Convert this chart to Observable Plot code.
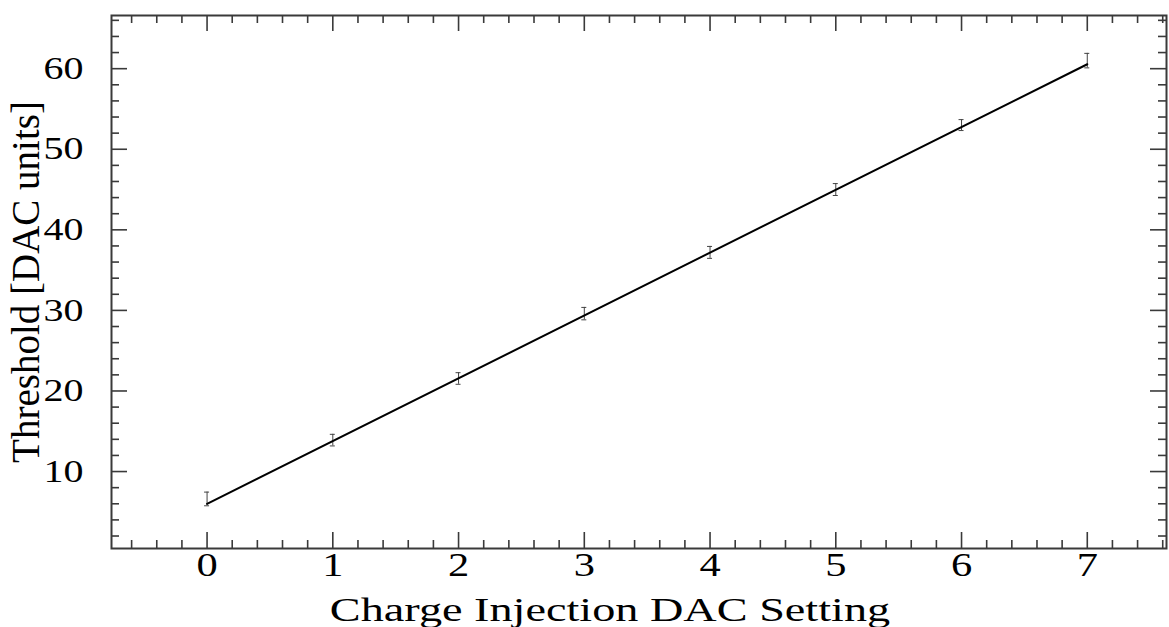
<!DOCTYPE html>
<html>
<head>
<meta charset="utf-8">
<script src="https://cdn.jsdelivr.net/npm/d3@7"></script>
<script src="https://cdn.jsdelivr.net/npm/@observablehq/plot@0.6"></script>
<style>
  body { margin: 0; background: #fff; }
  #chart svg { display: block; }
</style>
</head>
<body>
<div id="chart"></div>
<script>
// Threshold scan: measured threshold vs. charge-injection DAC setting
const dacSetting   = [0, 1, 2, 3, 4, 5, 6, 7];
const threshold    = [6.6, 13.9, 21.55, 29.6, 37.2, 45.0, 53.0, 61.0];
const thresholdErr = [0.85, 0.72, 0.72, 0.77, 0.74, 0.74, 0.68, 0.9];

// Straight-line fit, end points at DAC 0 and DAC 7
const fitX = [0, 7];
const fitY = [6.0, 60.55];

// Axis tick labels
const xTickValues = [0, 1, 2, 3, 4, 5, 6, 7];
const yTickValues = [10, 20, 30, 40, 50, 60];

const xTitle = "Charge Injection DAC Setting";
const yTitle = "Threshold [DAC units]";

const points = dacSetting.map((x, i) => ({
  x, y: threshold[i], lo: threshold[i] - thresholdErr[i], hi: threshold[i] + thresholdErr[i]
}));
const fit = fitX.map((x, i) => ({x, y: fitY[i]}));

const W = 1169, H = 627;
const mTop = 15, mBottom = 79, mLeft = 111, mRight = 3;
const innerH = H - mTop - mBottom;
const innerW = W - mLeft - mRight;

const xDomain = [-0.76, 7.63];
const yDomain = [0.45, 66.6];

const xMinor = d3.range(-0.6, 7.61, 0.2).map(v => Math.round(v * 10) / 10).filter(v => !xTickValues.includes(v));
const yMinor = d3.range(2, 66.1, 2).filter(v => !yTickValues.includes(v));

const axisColor = "#3a3a3a";
const majorLen = 16, minorLen = 8;

const chart = Plot.plot({
  width: W,
  height: H,
  marginTop: mTop,
  marginBottom: mBottom,
  marginLeft: mLeft,
  marginRight: mRight,
  style: {fontFamily: "'Liberation Serif', 'Times New Roman', serif", background: "#fff"},
  x: {domain: xDomain, axis: null},
  y: {domain: yDomain, axis: null},
  marks: [
    // inward ticks on all four sides
    Plot.tickX(xTickValues, {x: d => d, insetTop: innerH - majorLen, stroke: axisColor, strokeWidth: 1.6}),
    Plot.tickX(xMinor, {x: d => d, insetTop: innerH - minorLen, stroke: axisColor, strokeWidth: 1.6}),
    Plot.tickX(xTickValues, {x: d => d, insetBottom: innerH - majorLen, stroke: axisColor, strokeWidth: 1.6}),
    Plot.tickX(xMinor, {x: d => d, insetBottom: innerH - minorLen, stroke: axisColor, strokeWidth: 1.6}),
    Plot.tickY(yTickValues, {y: d => d, insetRight: innerW - majorLen, stroke: axisColor, strokeWidth: 1.6}),
    Plot.tickY(yMinor, {y: d => d, insetRight: innerW - minorLen, stroke: axisColor, strokeWidth: 1.6}),
    Plot.tickY(yTickValues, {y: d => d, insetLeft: innerW - majorLen, stroke: axisColor, strokeWidth: 1.6}),
    Plot.tickY(yMinor, {y: d => d, insetLeft: innerW - minorLen, stroke: axisColor, strokeWidth: 1.6}),

    // error bars with small caps
    Plot.ruleX(points, {x: "x", y1: "lo", y2: "hi", stroke: "#444", strokeWidth: 1}),
    Plot.ruleY(points, {y: "hi", x1: "x", x2: "x", insetLeft: -2.5, insetRight: -2.5, stroke: "#444", strokeWidth: 1}),
    Plot.ruleY(points, {y: "lo", x1: "x", x2: "x", insetLeft: -2.5, insetRight: -2.5, stroke: "#444", strokeWidth: 1}),

    // fitted line
    Plot.line(fit, {x: "x", y: "y", stroke: "#000", strokeWidth: 2}),

    Plot.frame({stroke: axisColor, strokeWidth: 2}),

    // tick labels
    Plot.axisX({ticks: xTickValues, tickSize: 0, tickPadding: 3, fontSize: 34, tickFormat: d => String(d), color: "#000", label: null, className: "wide-tick"}),
    Plot.axisY({ticks: yTickValues, tickSize: 0, tickPadding: 28, fontSize: 32, tickFormat: d => String(d), color: "#000", label: null, className: "wide-tick"}),

    // axis titles
    Plot.text([xTitle], {frameAnchor: "bottom", dx: -29, dy: 72, fontSize: 34, fill: "#000", className: "wide-title"}),
    Plot.text([yTitle], {frameAnchor: "left", dx: -85, rotate: -90, textAnchor: "middle", fontSize: 39, fill: "#000"})
  ]
});

// Widen glyphs horizontally, keeping each label's anchor point fixed
function widen(selector, sx) {
  chart.querySelectorAll(selector).forEach(t => {
    const tr = t.getAttribute("transform") || "";
    const x = parseFloat(t.getAttribute("x"));
    if (Number.isFinite(x) && x !== 0) t.setAttribute("x", x / sx);
    t.setAttribute("transform", `${tr} scale(${sx},1)`);
  });
}
widen(".wide-tick text", 1.25);
widen(".wide-title text", 1.36);

document.getElementById("chart").appendChild(chart);
</script>
</body>
</html>
